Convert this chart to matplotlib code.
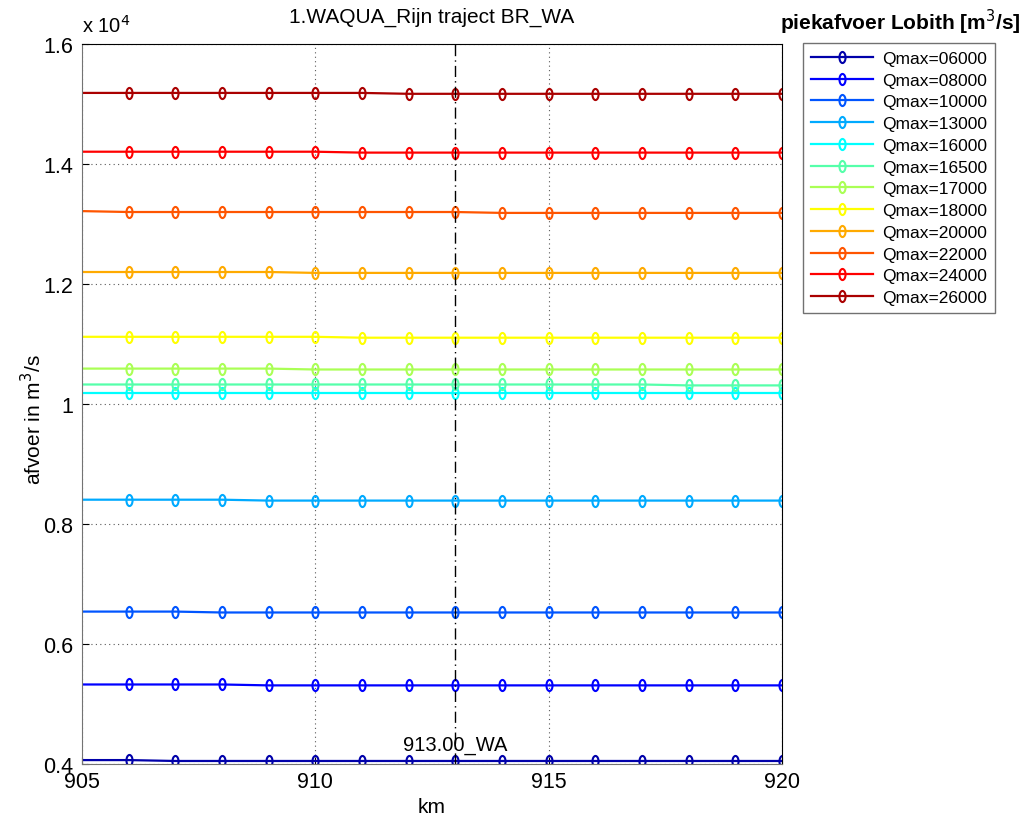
import matplotlib
matplotlib.use("Agg")
import matplotlib.pyplot as plt
from matplotlib.path import Path
from matplotlib.transforms import Affine2D
from matplotlib.ticker import FuncFormatter

plt.rcParams['font.family'] = ['Liberation Sans', 'DejaVu Sans']

km = [905, 906, 907, 908, 909, 910, 911, 912, 913, 914, 915, 916, 917, 918, 919, 920]

labels = ['Qmax=06000', 'Qmax=08000', 'Qmax=10000', 'Qmax=13000', 'Qmax=16000', 'Qmax=16500',
          'Qmax=17000', 'Qmax=18000', 'Qmax=20000', 'Qmax=22000', 'Qmax=24000', 'Qmax=26000']

q06000 = [4065, 4065, 4050, 4050, 4050, 4050, 4050, 4050, 4050, 4050, 4050, 4050, 4050, 4050, 4050, 4050]
q08000 = [5325, 5325, 5325, 5325, 5310, 5310, 5310, 5310, 5310, 5310, 5310, 5310, 5310, 5310, 5310, 5310]
q10000 = [6540, 6540, 6540, 6525, 6525, 6525, 6525, 6525, 6525, 6525, 6525, 6525, 6525, 6525, 6525, 6525]
q13000 = [8405, 8405, 8405, 8405, 8390, 8390, 8390, 8390, 8390, 8390, 8390, 8390, 8390, 8390, 8390, 8390]
q16000 = [10185, 10185, 10185, 10185, 10185, 10185, 10185, 10185, 10185, 10185, 10185, 10185, 10185, 10185, 10185, 10185]
q16500 = [10325, 10325, 10325, 10325, 10325, 10325, 10325, 10325, 10325, 10325, 10325, 10325, 10325, 10310, 10310, 10310]
q17000 = [10590, 10590, 10590, 10590, 10590, 10575, 10575, 10575, 10575, 10575, 10575, 10575, 10575, 10575, 10575, 10575]
q18000 = [11120, 11120, 11120, 11120, 11120, 11120, 11105, 11105, 11105, 11105, 11105, 11105, 11105, 11105, 11105, 11105]
q20000 = [12200, 12200, 12200, 12200, 12200, 12185, 12185, 12185, 12185, 12185, 12185, 12185, 12185, 12185, 12185, 12185]
q22000 = [13215, 13200, 13200, 13200, 13200, 13200, 13200, 13200, 13200, 13185, 13185, 13185, 13185, 13185, 13185, 13185]
q24000 = [14205, 14205, 14205, 14205, 14205, 14205, 14190, 14190, 14190, 14190, 14190, 14190, 14190, 14190, 14190, 14190]
q26000 = [15185, 15185, 15185, 15185, 15185, 15185, 15185, 15170, 15170, 15170, 15170, 15170, 15170, 15170, 15170, 15170]

series = [q06000, q08000, q10000, q13000, q16000, q16500,
          q17000, q18000, q20000, q22000, q24000, q26000]

# jet(12)
colors = [(0, 0, 0.667), (0, 0, 1), (0, 0.333, 1), (0, 0.667, 1), (0, 1, 1), (0.333, 1, 0.667),
          (0.667, 1, 0.333), (1, 1, 0), (1, 0.667, 0), (1, 0.333, 0), (1, 0, 0), (0.667, 0, 0)]

location_km = 913.00
location_name = '913.00_WA'

# narrow upright ellipse as marker
oval = Path.unit_circle().transformed(Affine2D().scale(0.55, 1.0))

fig = plt.figure(figsize=(10.27, 8.2), dpi=100)
ax = fig.add_axes([0.0798, 0.0671, 0.6816, 0.878])

for vals, lab, c in zip(series, labels, colors):
    ax.plot(km, vals, color=c, lw=1.6, marker=oval, markersize=8,
            markerfacecolor='none', markeredgecolor=c, markeredgewidth=1.5,
            markevery=slice(1, None), label=lab)

ax.axvline(location_km, color='black', lw=1.0, linestyle=(0, (8, 3, 1, 3)))
ax.text(location_km, 4160, location_name, ha='center', va='bottom', fontsize=14.5)

ax.set_xlim(905, 920)
ax.set_ylim(4000, 16000)
ax.set_xticks([905, 910, 915, 920])
ax.set_yticks([4000, 6000, 8000, 10000, 12000, 14000, 16000])
ax.yaxis.set_major_formatter(FuncFormatter(lambda v, p: f'{v / 1e4:g}'))
ax.grid(True, color='0.35', linestyle=(0, (1, 3)), lw=0.8)
ax.tick_params(direction='in', labelsize=15.5, length=5, top=False, right=False)
ax.tick_params(axis='x', pad=5)
ax.tick_params(axis='y', pad=6)
for s in ax.spines.values():
    s.set_linewidth(0.8)
ax.spines['left'].set_color('0.45')
ax.spines['bottom'].set_color('0.45')

ax.text(0.0, 1.012, r'x 10$^4$', transform=ax.transAxes, fontsize=14.5, ha='left', va='bottom')
ax.set_title('1.WAQUA_Rijn traject BR_WA', fontsize=15, pad=16)
ax.set_xlabel('km', fontsize=15, labelpad=4)
ax.set_ylabel(r'afvoer in m$^3$/s', fontsize=15, labelpad=0)
ax.yaxis.set_label_coords(-0.052, 0.48)

leg = ax.legend(loc='upper left', bbox_to_anchor=(803 / 1027, 1 - 44 / 820),
                bbox_transform=fig.transFigure, fontsize=12.5, frameon=True,
                fancybox=False, edgecolor='0.3', handlelength=3.6, labelspacing=0.38,
                borderpad=0.45, handletextpad=0.5, borderaxespad=0)
leg.get_frame().set_linewidth(1.0)

fig.text(900 / 1027, 1 - 22 / 820, r'piekafvoer Lobith [m$^3$/s]', fontsize=15,
         fontweight='bold', ha='center', va='center')

fig.savefig('out.png', dpi=100)
